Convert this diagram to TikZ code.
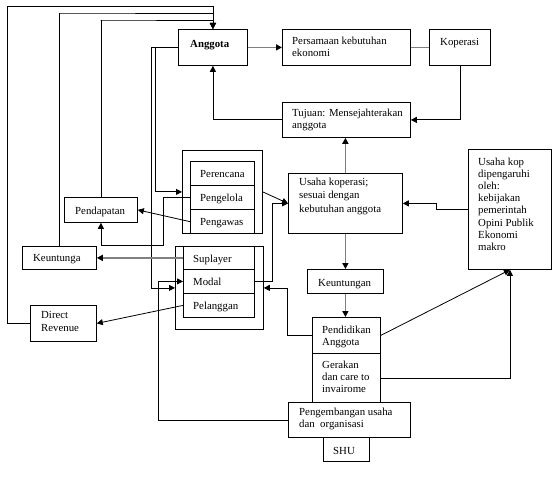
\documentclass[tikz,border=0pt]{standalone}
\usepackage{fontspec}
\setmainfont{Liberation Serif}
\usetikzlibrary{arrows.meta}
\newcommand{\fnt}{\fontsize{10.8}{12.2}\selectfont}
\newcommand{\fntw}{\fontsize{10.8}{13.5}\selectfont}
\begin{document}
\begin{tikzpicture}[x=1pt,y=-1pt,
  box/.style={draw, line width=0.8pt, inner sep=0pt, anchor=north west},
  txt/.style={inner sep=0pt, anchor=north west, align=left, font=\fnt, yshift=8.54pt, execute at begin node=\strut},
  txtw/.style={inner sep=0pt, anchor=north west, align=left, font=\fntw, yshift=9.45pt, execute at begin node=\strut},
  arr/.style={line width=0.8pt, -{Triangle[length=6pt,width=6pt]}},
  garr/.style={draw=gray, line width=1.6pt, -{Triangle[length=6pt,width=6pt,color=black]}},
  gln/.style={draw=gray, line width=1.6pt}]
\useasboundingbox[fill=white] (0,0) rectangle (559,478);

% boxes
\node[box, minimum width=69pt, minimum height=36pt] (ang) at (178,29) {};
\node[box, minimum width=128pt, minimum height=36pt] (per) at (282,29) {};
\node[box, minimum width=61pt, minimum height=36pt] (kop) at (429,29) {};
\node[box, minimum width=128pt, minimum height=35pt] (tuj) at (282,102) {};
\node[box, minimum width=114pt, minimum height=60pt] (usa) at (288,173) {};
\node[box, minimum width=83pt, minimum height=120pt] (dip) at (468,149) {};
\node[box, minimum width=76pt, minimum height=24pt] (keu) at (307,269) {};
\node[box, minimum width=68pt, minimum height=36pt] (pend) at (312,317) {};
\node[box, minimum width=68pt, minimum height=49pt] (ger) at (312,353) {};
\node[box, minimum width=122pt, minimum height=35pt, fill=white] (pgb) at (288,402) {};
\node[box, minimum width=46pt, minimum height=24pt] (shu) at (323,437) {};
% Perencana group
\node[box, minimum width=80pt, minimum height=83pt] (reng) at (182,150) {};
\node[box, minimum width=64pt, minimum height=24.5pt] (ren) at (190,161) {};
\node[box, minimum width=64pt, minimum height=24pt] (gel) at (190,185.5) {};
\node[box, minimum width=64pt, minimum height=23.5pt] (gaw) at (190,209.5) {};
% Suplayer group
\node[box, minimum width=88pt, minimum height=83pt] (supg) at (175,246) {};
\node[box, minimum width=71pt, minimum height=23pt] (sup) at (183,246) {};
\node[box, minimum width=71pt, minimum height=24pt] (mod) at (183,269) {};
\node[box, minimum width=71pt, minimum height=24pt] (pel) at (183,293) {};
% left boxes
\node[box, minimum width=73pt, minimum height=25pt] (pdp) at (64,197) {};
\node[box, minimum width=74pt, minimum height=23pt] (keua) at (22,246) {};
\node[box, minimum width=66pt, minimum height=36pt] (dr) at (30,305) {};

% texts
\node[txt] (tang) at (190,47) {\textbf{Anggota}};
\node[txt] (tper) at (292,45) {Persamaan kebutuhan\\ekonomi};
\node[txt] (tkop) at (440,45) {Koperasi};
\node[txt] (ttuj) at (292,117) {Tujuan: Mensejahterakan\\anggota};
\node[txtw] (tusa) at (299,187) {Usaha koperasi;\\sesuai dengan\\kebutuhan anggota};
\node[txt] (tdip) at (478,166) {Usaha kop\\dipengaruhi\\oleh:\\kebijakan\\pemerintah\\Opini Publik\\Ekonomi\\makro};
\node[txt] (tkeu) at (318,286) {Keuntungan};
\node[txt] (tpend) at (322,334) {Pendidikan\\Anggota};
\node[txt] (tger) at (322,369) {Gerakan\\dan care to\\invairome};
\node[txt] (tpgb) at (299,416) {Pengembangan usaha\\dan\ \ organisasi};
\node[txt] (tshu) at (333,454) {SHU};
\node[txt] (tren) at (200,177) {Perencana};
\node[txt] (tgel) at (200,201) {Pengelola};
\node[txt] (tgaw) at (200,225) {Pengawas};
\node[txt] (tsup) at (193,262) {Suplayer};
\node[txt] (tmod) at (193,285) {Modal};
\node[txt] (tpel) at (193,309) {Pelanggan};
\node[txt] (tpdp) at (75,214) {Pendapatan};
\node[txt] (tkeua) at (33,261) {Keuntunga};
\node[txt] (tdr) at (41,320) {Direct\\Revenue};

% routing coordinates
\coordinate (c1) at (7,6);
\coordinate (c2) at (59,13);
\coordinate (c3) at (100.5,20);
\coordinate (c4) at (151,0);
\coordinate (c5) at (155,0);
\coordinate (c6) at (163,245);
\coordinate (c7) at (272,0);
\coordinate (c8) at (287,0);
\coordinate (c9) at (158,0);
\coordinate (c10) at (436,0);

% connectors
\draw[arr] (dr.west) -| (c1) -| (ang.north);
\draw[arr] (keua.north) |- (c2) -| (ang.north);
\draw[arr] (pdp.north) |- (c3) -| (ang.north);
\draw[arr] (ang.west) -- (ang.west -| c4) |- (supg.west);
\draw[arr] (ang.west) -- (ang.west -| c5) |- (reng.west);
\draw[arr] (gel.west) -| (c6) -| (pdp.south);
\draw[arr] (gaw.west) -- (pdp.east);
\draw[garr] (sup.west) -- (keua.east);
\draw[arr] (pel.west) -- (dr.east);
\draw[arr] (reng.east) -- (usa.west);
\draw[arr] (mod.east) -- (mod.east -| c7) |- (usa.west);
\draw[arr] (pend.west) -- (pend.west -| c8) |- (supg.east);
\draw[arr] (pgb.west) -- (pgb.west -| c9) |- (mod.west);
\draw[garr] (ang.east) -- (per.west);
\draw[gln] (per.east) -- (kop.west);
\draw[arr] (kop.south) |- (tuj.east);
\draw[arr] (tuj.west) -| (ang.south);
\draw[garr] (usa.north) -- (usa.north |- tuj.south);
\draw[arr] (dip.west) -- (dip.west -| c10) |- (usa.east);
\draw[garr] (usa.south) -- (usa.south |- keu.north);
\draw[garr] (keu.south) -- (keu.south |- pend.north);
\draw[arr] (pend.east) -- (dip.south);
\draw[arr] (ger.east) -| (dip.south);
\end{tikzpicture}
\end{document}
